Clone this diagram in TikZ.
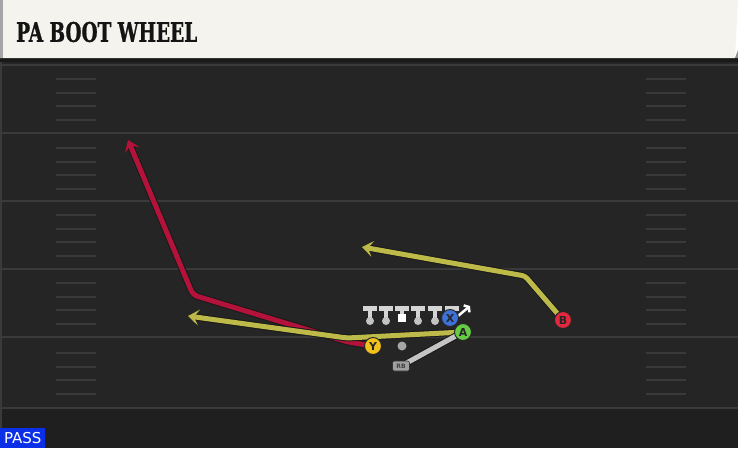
\documentclass[tikz,border=0pt]{standalone}
\usepackage{fontspec}
\setmainfont{DejaVu Sans}
\newfontfamily\titlefont[FakeBold=1.2]{DejaVu Serif}
\usetikzlibrary{arrows.meta,backgrounds}
\definecolor{fieldbg}{HTML}{252525}
\definecolor{fieldlow}{HTML}{1F1F1F}
\definecolor{yardcol}{HTML}{3A3A3A}
\definecolor{hashcol}{HTML}{393939}
\definecolor{titlebg}{HTML}{F5F3EE}
\definecolor{routered}{HTML}{B3123A}
\definecolor{routeyel}{HTML}{BDBA4A}
\definecolor{routegry}{HTML}{C4C4C4}
\definecolor{xblue}{HTML}{3E72D8}
\definecolor{agreen}{HTML}{66CC44}
\definecolor{yyellow}{HTML}{F2C21C}
\definecolor{bred}{HTML}{E2283E}
\definecolor{passblue}{HTML}{0B2FE6}
\definecolor{linegry}{HTML}{D4D4D4}

\begin{document}
\begin{tikzpicture}[x=1pt,y=-1pt,
  yardline/.style={draw=yardcol,line width=2pt},
  hashmark/.style={draw=hashcol,line width=1.5pt},
  player/.style={circle,draw=black!85,line width=1pt,minimum size=17pt,inner sep=0pt,
    text=black!85,font=\bfseries\fontsize{11}{11}\selectfont},
  route/.style={line width=5pt,line join=round,line cap=round,draw=#1,
    preaction={draw=black!90,line width=7pt}},
  routetip/.style={-{Stealth[length=11pt,width=16pt,inset=5pt]}},
  lineman/.style={circle,fill=linegry!80!gray,inner sep=0pt,minimum size=8pt}]
\useasboundingbox (0,0) rectangle (738,448);

\begin{scope}[on background layer]
\fill[fieldbg] (0,58) rectangle (738,448);
\fill[fieldlow] (0,409) rectangle (738,448);
\fill[black!90] (0,58) rectangle (738,62);
\fill[yardcol] (0,62) rectangle (2,448);
\foreach \y in {65,133,201,269,337,408}
  \draw[yardline] (0,\y) -- (738,\y);
\foreach \b in {79,148,215,283,353}
  \foreach \o in {0,14,27,41} {
    \draw[hashmark] (56,\b+\o) -- (96,\b+\o);
    \draw[hashmark] (646,\b+\o) -- (686,\b+\o);
  }
\end{scope}

\fill[titlebg] (0,0) -- (738,0) -- (735,58) -- (0,58) -- cycle;
\fill[black!35] (0,0) rectangle (3,58);
\fill[black!45] (735,58) -- (738,50) -- (738,58) -- cycle;
\node[anchor=west,inner sep=0pt,text=black!92] (title) at (16,32)
  {\resizebox{181pt}{20pt}{\titlefont\bfseries PA BOOT WHEEL}};

\node[fill=passblue,text=white,anchor=south west,inner sep=0pt,minimum width=45pt,minimum height=20pt,
  font=\fontsize{15}{15}\selectfont] (pass) at (0,448) {PASS};

\foreach \x [count=\i] in {370,386,418,435,452} {
  \fill[linegry] (\x-7,306) rectangle (\x+7,311);
  \fill[linegry] (\x-2,311) rectangle (\x+2,319);
  \node[lineman] (l\i) at (\x,321) {};
}
\fill[linegry] (395,306) rectangle (409,311);
\fill[linegry] (400,311) rectangle (404,315);
\node[fill=white,inner sep=0pt,minimum size=8pt] (center) at (402,318) {};
\coordinate (motion) at (470,306);
\draw[white,line width=2.5pt,-{Straight Barb[length=3pt,width=9pt]}] (l5) -- (motion);

\node[circle,fill=gray!70,inner sep=0pt,minimum size=9pt] (qb) at (402,346) {};
\node[rounded corners=2pt,fill=gray!75,draw=black!80,line width=0.6pt,inner sep=0pt,
  minimum width=17pt,minimum height=10pt,font=\bfseries\fontsize{6}{6}\selectfont,text=black!75] (rb) at (401,366) {RB};

\node[player,fill=xblue] (x) at (450,318) {X};
\node[player,fill=agreen] (a) at (463,332) {A};
\node[player,fill=yyellow] (y) at (373,346) {Y};
\node[player,fill=bred] (b) at (563,320) {B};

\coordinate (red1) at (348,342);
\coordinate (red2) at (193,295);
\coordinate (red3) at (128,140);
\coordinate (yel1) at (347,338);
\coordinate (yel2) at (188,316);
\coordinate (wheel1) at (525,276);
\coordinate (wheel2) at (362,247);

\begin{scope}[on background layer]
\draw[route=routered,rounded corners=5pt,routetip] (y.center) -- (red1) -- (red2) -- (red3);
\draw[route=routeyel,rounded corners=4pt,routetip] (a.center) -- (yel1) -- (yel2);
\draw[route=routeyel,rounded corners=3pt,routetip] (b.center) -- (wheel1) -- (wheel2);
\draw[route=routegry] (rb.center) -- (a.center);
\end{scope}
\end{tikzpicture}
\end{document}
